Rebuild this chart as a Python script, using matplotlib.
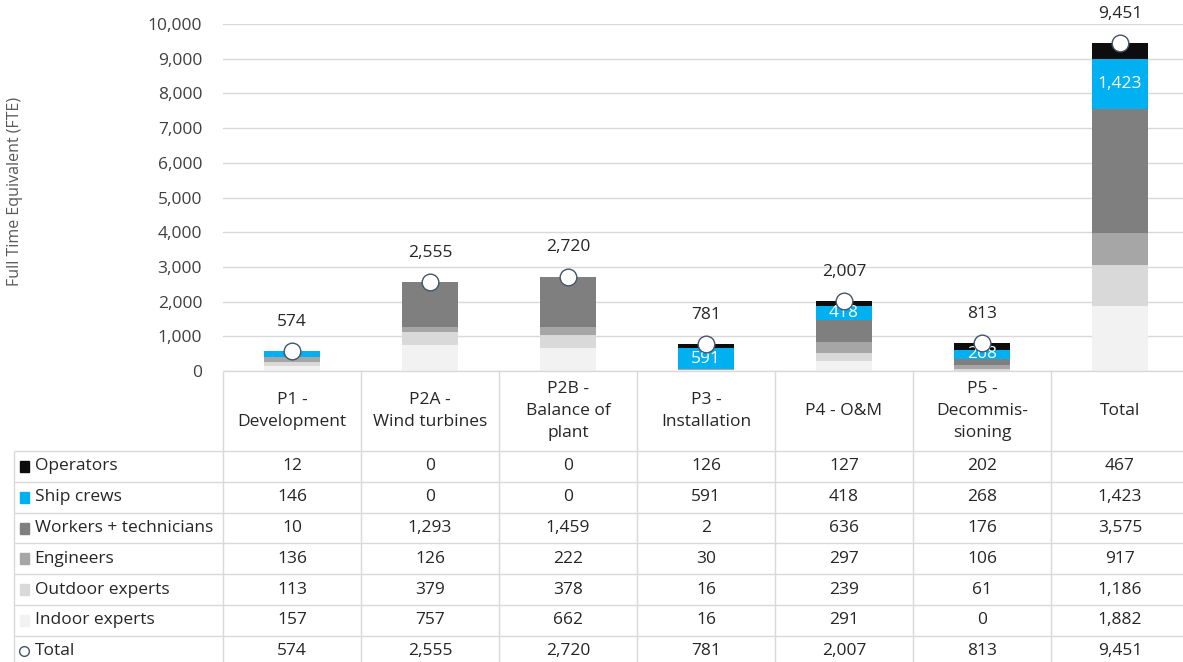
import numpy as np
import matplotlib
matplotlib.use("Agg")
import matplotlib.pyplot as plt
from matplotlib.patches import Rectangle

plt.rcParams['font.family'] = ['Open Sans', 'DejaVu Sans']

# data
phases = ["P1 -\nDevelopment", "P2A -\nWind turbines", "P2B -\nBalance of\nplant",
          "P3 -\nInstallation", "P4 - O&M", "P5 -\nDecommis-\nsioning", "Total"]
operators = [12, 0, 0, 126, 127, 202, 467]
ship_crews = [146, 0, 0, 591, 418, 268, 1423]
workers = [10, 1293, 1459, 2, 636, 176, 3575]
engineers = [136, 126, 222, 30, 297, 106, 917]
outdoor = [113, 379, 378, 16, 239, 61, 1186]
indoor = [157, 757, 662, 16, 291, 0, 1882]
totals = [574, 2555, 2720, 781, 2007, 813, 9451]

# stacked from the bottom up
stack = [("Indoor experts", indoor, "#f2f2f2"),
         ("Outdoor experts", outdoor, "#d9d9d9"),
         ("Engineers", engineers, "#a6a6a6"),
         ("Workers + technicians", workers, "#7f7f7f"),
         ("Ship crews", ship_crews, "#00b0f0"),
         ("Operators", operators, "#0d0d0d")]

W, H = 1183, 662
def rect(x0, y0, x1, y1):
    return [x0 / W, 1 - y1 / H, (x1 - x0) / W, (y1 - y0) / H]

fig = plt.figure(figsize=(W / 100, H / 100), dpi=100)
txt = "#262626"
grid = "#d9d9d9"
fs = 12.5

# ---- chart ----
ax = fig.add_axes(rect(223, 24, 1189, 371))
x = np.arange(len(phases))
bottom = np.zeros(len(phases))
for name, vals, col in stack:
    vals = np.array(vals, dtype=float)
    ax.bar(x, vals, 0.4, bottom=bottom, color=col, zorder=2)
    if name == "Ship crews":
        for xi, b, v in zip(x, bottom, vals):
            if v > 200:
                ax.text(xi, b + v / 2, f"{int(v):,}", ha="center", va="center",
                        color="white", fontsize=fs, zorder=3)
    bottom += vals

ax.plot(x, totals, "o", ms=12, mfc="white", mec="#44546a", mew=1.0, zorder=5, clip_on=False)
for xi, t in zip(x, totals):
    ax.annotate(f"{t:,}", (xi, t), xytext=(0, 21), textcoords="offset points",
                ha="center", va="center", fontsize=fs, color=txt)

ax.set_xlim(-0.5, len(phases) - 0.5)
ax.set_ylim(0, 10000)
ax.set_yticks(np.arange(0, 10001, 1000))
ax.set_yticklabels([f"{v:,}" for v in range(0, 10001, 1000)], fontsize=fs, color="#404040")
ax.set_xticks([])
ax.grid(axis="y", color=grid, lw=1, zorder=0)
for s in ax.spines.values():
    s.set_visible(False)
ax.tick_params(axis="y", length=0, pad=15)
fig.text(15 / W, 1 - 191 / H, "Full Time Equivalent (FTE)", rotation=90,
         ha="center", va="center", fontsize=11.5, color="#595959")

# ---- data table ----
tx = fig.add_axes(rect(14, 371, 1189, 662))
label_w = 1.514
tx.set_xlim(-0.5 - label_w, len(phases) - 0.5)
tx.set_ylim(291, 0)
tx.axis("off")

head_h = 80
row_h = 30.8
rows = [("Operators", operators, "#0d0d0d"),
        ("Ship crews", ship_crews, "#00b0f0"),
        ("Workers + technicians", workers, "#7f7f7f"),
        ("Engineers", engineers, "#a6a6a6"),
        ("Outdoor experts", outdoor, "#d9d9d9"),
        ("Indoor experts", indoor, "#f2f2f2"),
        ("Total", totals, None)]

lc = "#d9d9d9"
tx.hlines(0, -0.5, len(phases) - 0.5, color=lc, lw=1, clip_on=False)
for i in range(len(rows) + 1):
    tx.hlines(head_h + i * row_h, -0.5 - label_w, len(phases) - 0.5, color=lc, lw=1, clip_on=False)
tx.vlines(-0.5 - label_w, head_h, head_h + len(rows) * row_h, color=lc, lw=1, clip_on=False)
for k in range(len(phases) + 1):
    tx.vlines(k - 0.5, 0, head_h + len(rows) * row_h, color=lc, lw=1, clip_on=False)

for xi, p in zip(x, phases):
    tx.text(xi, head_h / 2, p, ha="center", va="center", fontsize=fs, color=txt, linespacing=1.5)

for i, (name, vals, col) in enumerate(rows):
    yc = head_h + (i + 0.5) * row_h
    x0 = -0.5 - label_w + 0.04
    if col is not None:
        tx.add_patch(Rectangle((x0, yc - 5.5), 0.07, 11, color=col, clip_on=False))
    else:
        tx.plot(x0 + 0.035, yc, "o", ms=7, mfc="white", mec="#44546a", mew=1.0, clip_on=False)
    tx.text(x0 + 0.11, yc, name, ha="left", va="center", fontsize=fs, color=txt)
    for xi, v in zip(x, vals):
        tx.text(xi, yc, f"{v:,}", ha="center", va="center", fontsize=fs, color=txt)

fig.savefig("out.png", dpi=100)
